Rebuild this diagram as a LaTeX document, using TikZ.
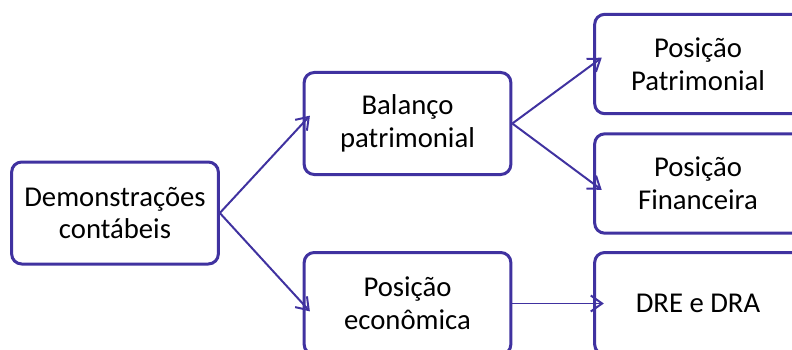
\documentclass[tikz,border=0pt]{standalone}
\usepackage{fontspec}
\setmainfont{Carlito}
\usetikzlibrary{positioning}
\usetikzlibrary{arrows.meta}
\definecolor{roxo}{RGB}{64,50,160}

\begin{document}
\begin{tikzpicture}[every node/.style={draw=roxo, line width=0.09cm, rounded corners=0.3cm, align=center, minimum width=6.2cm, minimum height=3.06cm, font=\fontsize{24.5}{28}\selectfont},
  >={Straight Barb[length=3.4mm,width=4.8mm]}]
              \useasboundingbox (0,0) rectangle (23.76,10.47);
              \clip (0,0) rectangle (23.76,10.47);
              % Caixas
              \node (dem) at (3.45,4.08) {Demonstrações\\contábeis};
              \node (bal) at (12.225,6.765) {Balanço\\patrimonial};
              \node (eco) at (12.225,1.365) {Posição\\econômica};
              \node[minimum height=2.98cm] (pat) at (20.94,8.55) {Posição\\Patrimonial};
              \node[minimum height=2.98cm] (fin) at (20.94,4.965) {Posição\\Financeira};
              \node (dre) at (20.94,1.365) {DRE e DRA};
              
              % Setas
              \draw[->, roxo, line width=1.7pt, shorten >=-3.2mm] (dem.east) -- (bal.west);
              \draw[->, roxo, line width=1.7pt, shorten >=-3.2mm] (dem.east) -- (eco.west);
              \draw[->, roxo, line width=1.7pt, shorten >=-3.2mm] (bal.east) -- (pat.west);
              \draw[->, roxo, line width=1.7pt, shorten >=-3.2mm] (bal.east) -- (fin.west);
              \draw[->, roxo, line width=1.7pt, shorten >=-3.2mm] (eco.east) -- (dre.west);
            \end{tikzpicture}
\end{document}
